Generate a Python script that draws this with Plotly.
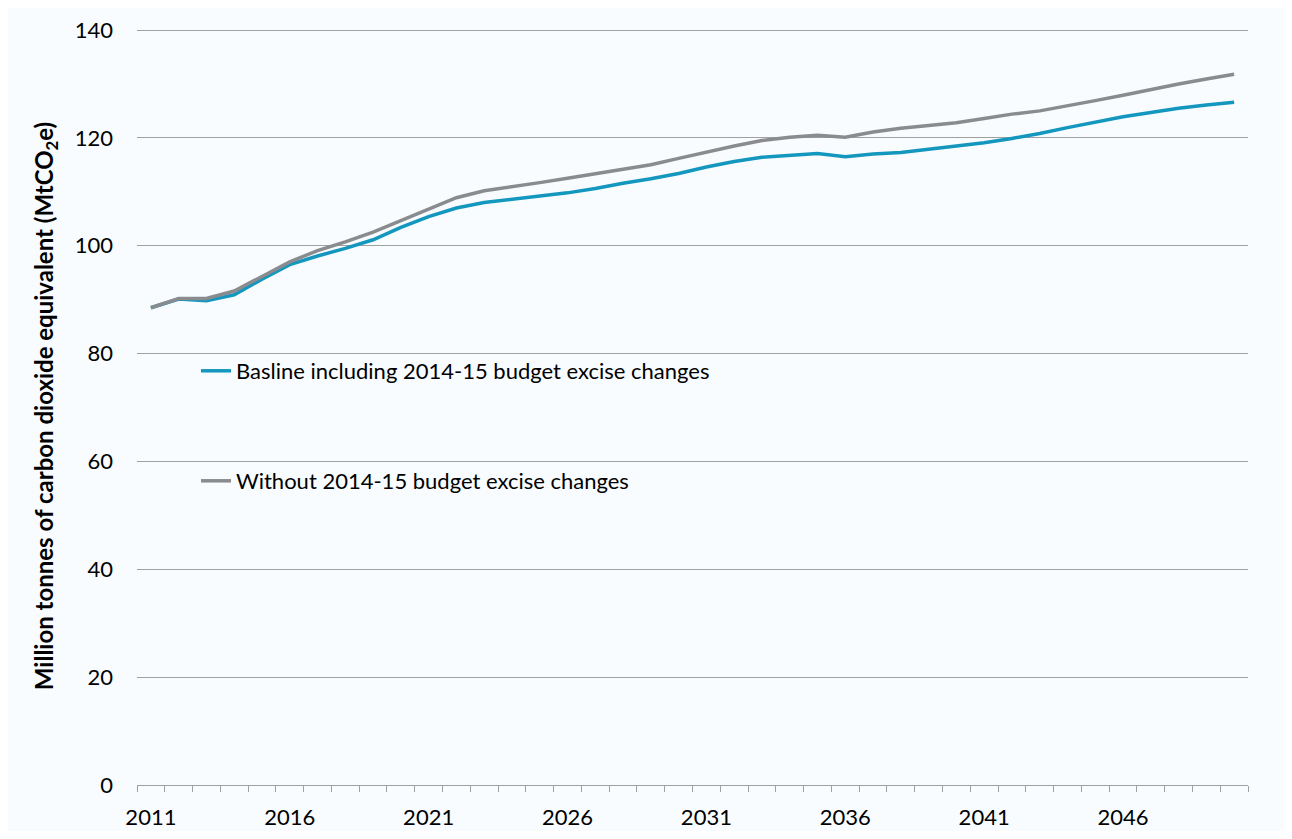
import plotly.graph_objects as go

years = list(range(2011, 2051))
baseline = [88.5, 90.1, 89.8, 90.9, 93.8, 96.5, 98.1, 99.5, 101.1, 103.4,
            105.4, 107.0, 108.0, 108.6, 109.1, 109.8, 110.6, 111.6, 112.4, 113.4,
            114.6, 115.6, 116.4, 116.8, 117.1, 116.5, 117.0, 117.3, 117.9, 118.5,
            119.1, 119.9, 120.8, 121.9, 122.9, 123.9, 124.7, 125.5, 126.1, 126.6]
without = [88.5, 90.2, 90.2, 91.6, 94.3, 97.0, 99.1, 100.7, 102.5, 104.6,
           106.8, 108.9, 110.2, 110.9, 111.7, 112.5, 113.3, 114.1, 115.0, 116.2,
           117.4, 118.5, 119.5, 120.1, 120.5, 120.1, 121.1, 121.8, 122.3, 122.8,
           123.6, 124.4, 125.0, 125.9, 126.9, 127.9, 129.0, 130.0, 130.9, 131.8]
label_years = [2011, 2016, 2021, 2026, 2031, 2036, 2041, 2046]
y_ticks = [0, 20, 40, 60, 80, 100, 120, 140]
series_names = ["Basline including 2014-15 budget excise changes",
                "Without 2014-15 budget excise changes"]

TEAL = "#1497BE"
GREY = "#8A8B8E"
BG = "#F8FCFE"
FONT = "Lato"

fig = go.Figure()
fig.add_trace(go.Scatter(x=years, y=baseline, mode="lines", name=series_names[0],
                         line=dict(color=TEAL, width=3.5), legend="legend",
                         showlegend=True))
fig.add_trace(go.Scatter(x=years, y=without, mode="lines", name=series_names[1],
                         line=dict(color=GREY, width=3.5), legend="legend2",
                         showlegend=True))

OFF = 8  # page body margin
TOP_PX, ZERO_PX, Y140_PX = 27, 785, 30
W, H = 1292 - 2 * OFF, 839 - 2 * OFF
L, T = 137 - OFF, TOP_PX - OFF
R = (OFF + W) - 1248
B = (OFF + H) - ZERO_PX
pw, ph = W - L - R, H - T - B
y_max = 140 * (ZERO_PX - TOP_PX) / (ZERO_PX - Y140_PX)

def px_x(p):
    return (p - OFF - L) / pw

def px_y(p):
    return 1 - (p - OFF - T) / ph

fig.update_layout(
    width=W, height=H,
    margin=dict(l=L, r=R, t=T, b=B, autoexpand=False),
    paper_bgcolor=BG,
    plot_bgcolor="rgba(0,0,0,0)",
    showlegend=True,
    font=dict(family=FONT, size=22, color="#000000"),
    legend=dict(x=px_x(196), y=px_y(371), xanchor="left", yanchor="middle",
                bgcolor="rgba(0,0,0,0)", font=dict(family=FONT, size=22),
                itemwidth=30),
    legend2=dict(x=px_x(196), y=px_y(481), xanchor="left", yanchor="middle",
                 bgcolor="rgba(0,0,0,0)", font=dict(family=FONT, size=22),
                 itemwidth=30),
    xaxis=dict(range=[2010.5, 2050.5], tickmode="array", tickvals=label_years,
               ticktext=[str(y) for y in label_years], ticks="", showgrid=False,
               showline=True, linecolor="#A0A0A0", linewidth=1.3,
               ticklabelstandoff=12, automargin=False,
               tickfont=dict(family=FONT, size=22),
               minor=dict(tick0=2010.5, dtick=1, ticks="outside", ticklen=6,
                          tickcolor="#A0A0A0", tickwidth=1.3, showgrid=False),
               zeroline=False),
    yaxis=dict(range=[0, y_max], tickmode="array", tickvals=y_ticks,
               showgrid=True, gridcolor="#A0A0A0",
               gridwidth=1.3, showline=False, zeroline=False, ticks="",
               ticklabelstandoff=23, automargin=False,
               tickfont=dict(family=FONT, size=22),
               title=dict(text="<b>Million tonnes of carbon dioxide equivalent (MtCO<sub>2</sub>e)</b>",
                          font=dict(family=FONT, size=24), standoff=14)),
)

fig.write_html("out.html")
